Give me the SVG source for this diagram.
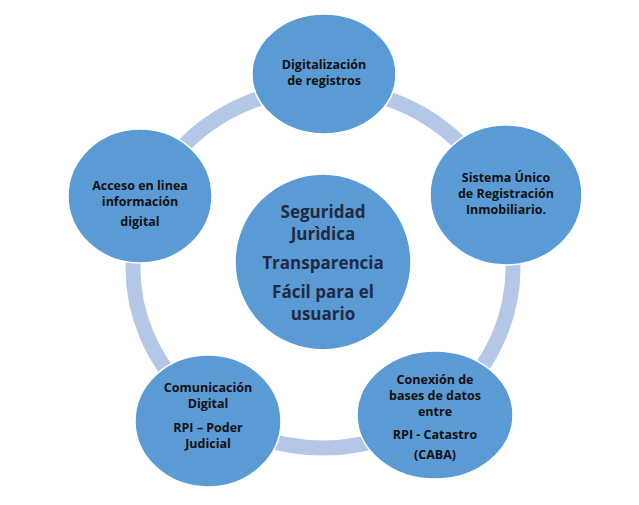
<svg xmlns="http://www.w3.org/2000/svg" width="639" height="505" viewBox="0 0 639 505">
<style>
.n{fill:#5B9BD5;stroke:#fff;stroke-width:1.5}
.t{font-family:"Open Sans","Liberation Sans",sans-serif;font-weight:bold;font-size:12.5px;fill:#111;text-anchor:middle}
.c{font-family:"Open Sans","Liberation Sans",sans-serif;font-weight:bold;font-size:17px;fill:#1F2A44;text-anchor:middle}
</style>
<rect width="639" height="505" fill="#fff"/>
<g id="connectors"><ellipse cx="323" cy="268" rx="190" ry="180" fill="none" stroke="#B4C7E7" stroke-width="15"/></g>
<g id="center"><circle class="n" cx="323" cy="262" r="88"/>
<text class="c" x="323" y="218">Seguridad</text><text class="c" x="323" y="240">Jurìdica</text><text class="c" x="323" y="269">Transparencia</text><text class="c" x="323" y="298">Fácil para el</text><text class="c" x="323" y="320">usuario</text></g>
<g id="top"><ellipse class="n" cx="324" cy="74" rx="72" ry="60"/>
<text class="t" x="324" y="69">Digitalización</text><text class="t" x="324" y="85">de registros</text></g>
<g id="right"><ellipse class="n" cx="506" cy="195" rx="76" ry="70"/>
<text class="t" x="506" y="182">Sistema Único</text><text class="t" x="506" y="198">de Registración</text><text class="t" x="506" y="214">Inmobiliario.</text></g>
<g id="bottomright"><ellipse class="n" cx="435" cy="415" rx="78" ry="64"/>
<text class="t" x="435" y="384">Conexión de</text><text class="t" x="435" y="400">bases de datos</text><text class="t" x="435" y="416">entre</text><text class="t" x="435" y="439">RPI - Catastro</text><text class="t" x="435" y="459">(CABA)</text></g>
<g id="bottomleft"><ellipse class="n" cx="208" cy="421" rx="73" ry="66"/>
<text class="t" x="208" y="392">Comunicación</text><text class="t" x="208" y="408">Digital</text><text class="t" x="208" y="432">RPI – Poder</text><text class="t" x="208" y="448">Judicial</text></g>
<g id="left"><ellipse class="n" cx="140" cy="196" rx="72" ry="67"/>
<text class="t" x="140" y="190">Acceso  en linea</text><text class="t" x="140" y="206">información</text><text class="t" x="140" y="226">digital</text></g>
</svg>
